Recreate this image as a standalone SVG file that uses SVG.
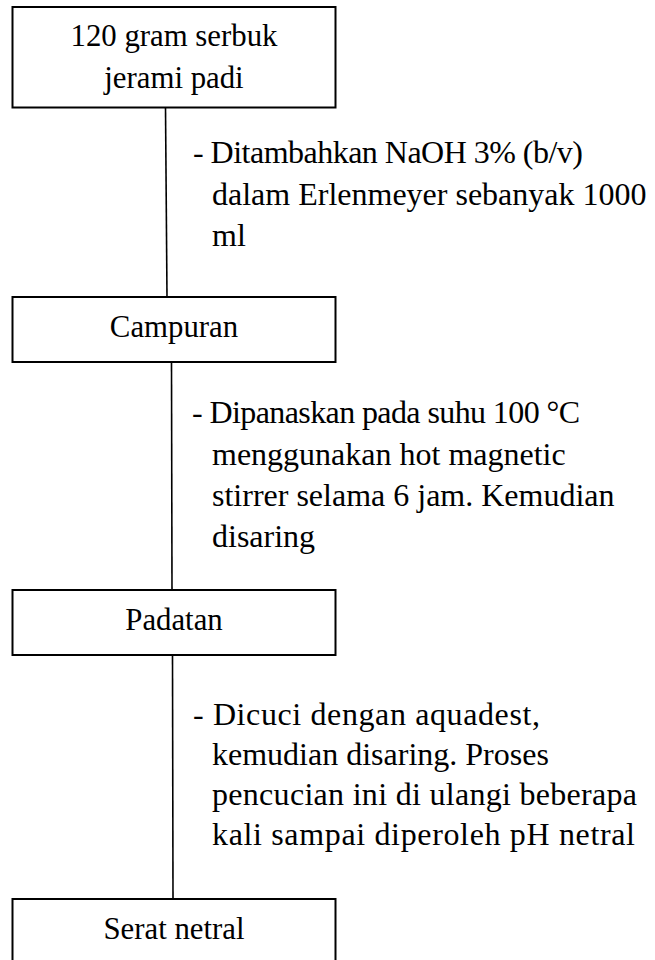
<svg xmlns="http://www.w3.org/2000/svg" width="655" height="960" viewBox="0 0 655 960">
<style>
.box{fill:#fff;stroke:#000;stroke-width:2}
.t{font-family:"Liberation Serif","Times New Roman",serif;font-size:30.8px;fill:#000}
.l{font-size:32px}
.c{text-anchor:middle}
.ln{stroke:#000;stroke-width:1.6;fill:none}
</style>
<rect width="655" height="960" fill="#fff"/>
<g id="connectors">
<line class="ln" x1="165.5" y1="107" x2="167" y2="297"/>
<line class="ln" x1="171.5" y1="362" x2="172" y2="590"/>
<line class="ln" x1="172.5" y1="655" x2="173" y2="899"/>
</g>
<g id="n1">
<rect class="box" x="12.5" y="7" width="323" height="100.5"/>
<text class="t c" x="174" y="46">120 gram serbuk</text>
<text class="t c" x="174" y="88">jerami padi</text>
</g>
<g id="label1">
<text class="t l" x="193" y="163" textLength="390" lengthAdjust="spacing">- Ditambahkan NaOH 3% (b/v)</text>
<text class="t l" x="212" y="205">dalam Erlenmeyer sebanyak 1000</text>
<text class="t l" x="212" y="246">ml</text>
</g>
<g id="n2">
<rect class="box" x="12.5" y="297" width="323" height="65"/>
<text class="t c" x="174" y="337">Campuran</text>
</g>
<g id="label2">
<text class="t l" x="192" y="423" textLength="388" lengthAdjust="spacing">- Dipanaskan pada suhu 100 °C</text>
<text class="t l" x="212" y="465">menggunakan hot magnetic</text>
<text class="t l" x="212" y="506">stirrer selama 6 jam. Kemudian</text>
<text class="t l" x="212" y="547">disaring</text>
</g>
<g id="n3">
<rect class="box" x="12.5" y="590" width="323" height="65"/>
<text class="t c" x="174" y="630">Padatan</text>
</g>
<g id="label3">
<text class="t l" x="193" y="725" textLength="347" lengthAdjust="spacing">- Dicuci dengan aquadest,</text>
<text class="t l" x="212" y="765">kemudian disaring. Proses</text>
<text class="t l" x="212" y="805" textLength="425" lengthAdjust="spacing">pencucian ini di ulangi beberapa</text>
<text class="t l" x="212" y="845" textLength="423" lengthAdjust="spacing">kali sampai diperoleh pH netral</text>
</g>
<g id="n4">
<rect class="box" x="12.5" y="899" width="323" height="70"/>
<text class="t c" x="174" y="939">Serat netral</text>
</g>
</svg>
